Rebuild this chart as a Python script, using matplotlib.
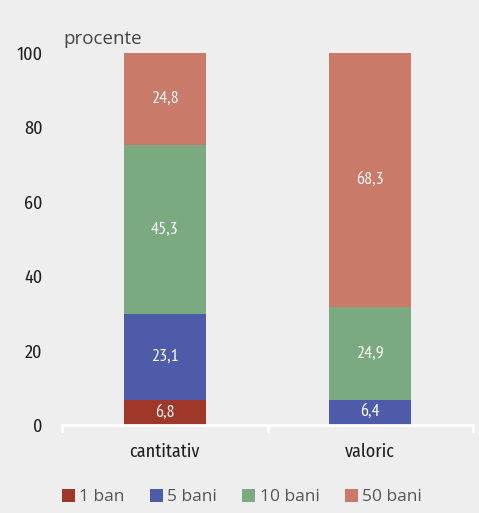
import matplotlib
matplotlib.use("Agg")
import matplotlib.pyplot as plt
import numpy as np
from matplotlib.patches import Patch

categories = ["cantitativ", "valoric"]
series_names = ["1 ban", "5 bani", "10 bani", "50 bani"]
values = {
    "1 ban": [6.8, 0.4],
    "5 bani": [23.1, 6.4],
    "10 bani": [45.3, 24.9],
    "50 bani": [24.8, 68.3],
}
colors = ["#a0382a", "#4e5ba8", "#7baa80", "#c97a68"]
yticks = [0, 20, 40, 60, 80, 100]

bg = "#eeeeee"
cond = ["Fira Sans Condensed", "DejaVu Sans"]
narrow = ["PT Sans Narrow", "DejaVu Sans"]

fig = plt.figure(figsize=(4.79, 5.13), dpi=100, facecolor=bg)
ax = fig.add_axes([62 / 479, 88 / 513, 411 / 479, 372 / 513], facecolor=bg)

x = np.arange(len(categories))
bottom = np.zeros(len(categories))
for name, col in zip(series_names, colors):
    v = np.array(values[name])
    ax.bar(x, v, 0.4, bottom=bottom, color=col, linewidth=0)
    for xi, vi, bi in zip(x, v, bottom):
        if vi >= 3:
            ax.text(xi, bi + vi / 2, f"{vi:.1f}".replace(".", ","), ha="center", va="center",
                    color="white", fontsize=13, family=narrow)
    bottom += v

ax.set_xlim(-0.5, 1.5)
ax.set_ylim(0, 100)
ax.set_yticks(yticks)
ax.set_yticklabels([str(t) for t in yticks], family=cond, fontsize=13, color="#1e1e1e")
ax.tick_params(axis="y", length=0, pad=14)
ax.set_xticks(x)
ax.set_xticklabels(categories, family=cond, fontsize=13, color="#1e1e1e")
ax.tick_params(axis="x", length=0, pad=13)
ax.set_xticks([-0.5, 0.5, 1.5], minor=True)
ax.tick_params(axis="x", which="minor", length=6, width=2, color="white", direction="out")

for s in ["top", "right", "left"]:
    ax.spines[s].set_visible(False)
ax.spines["bottom"].set_color("white")
ax.spines["bottom"].set_linewidth(2)

fig.text(63 / 479, 1 - 39 / 513, "procente", fontsize=13.5, color="#444444",
         family="Open Sans", va="center")

handles = [Patch(facecolor=c, edgecolor="none") for c in colors]
fig.legend(handles, series_names, loc="center", bbox_to_anchor=(0.505, 1 - 497 / 513),
           ncol=4, frameon=False, handlelength=0.75, handleheight=0.75,
           handletextpad=0.25, columnspacing=1.45, prop={"family": "Open Sans", "size": 12.5},
           labelcolor="#555555")

fig.savefig("out.png", dpi=100, facecolor=bg)
